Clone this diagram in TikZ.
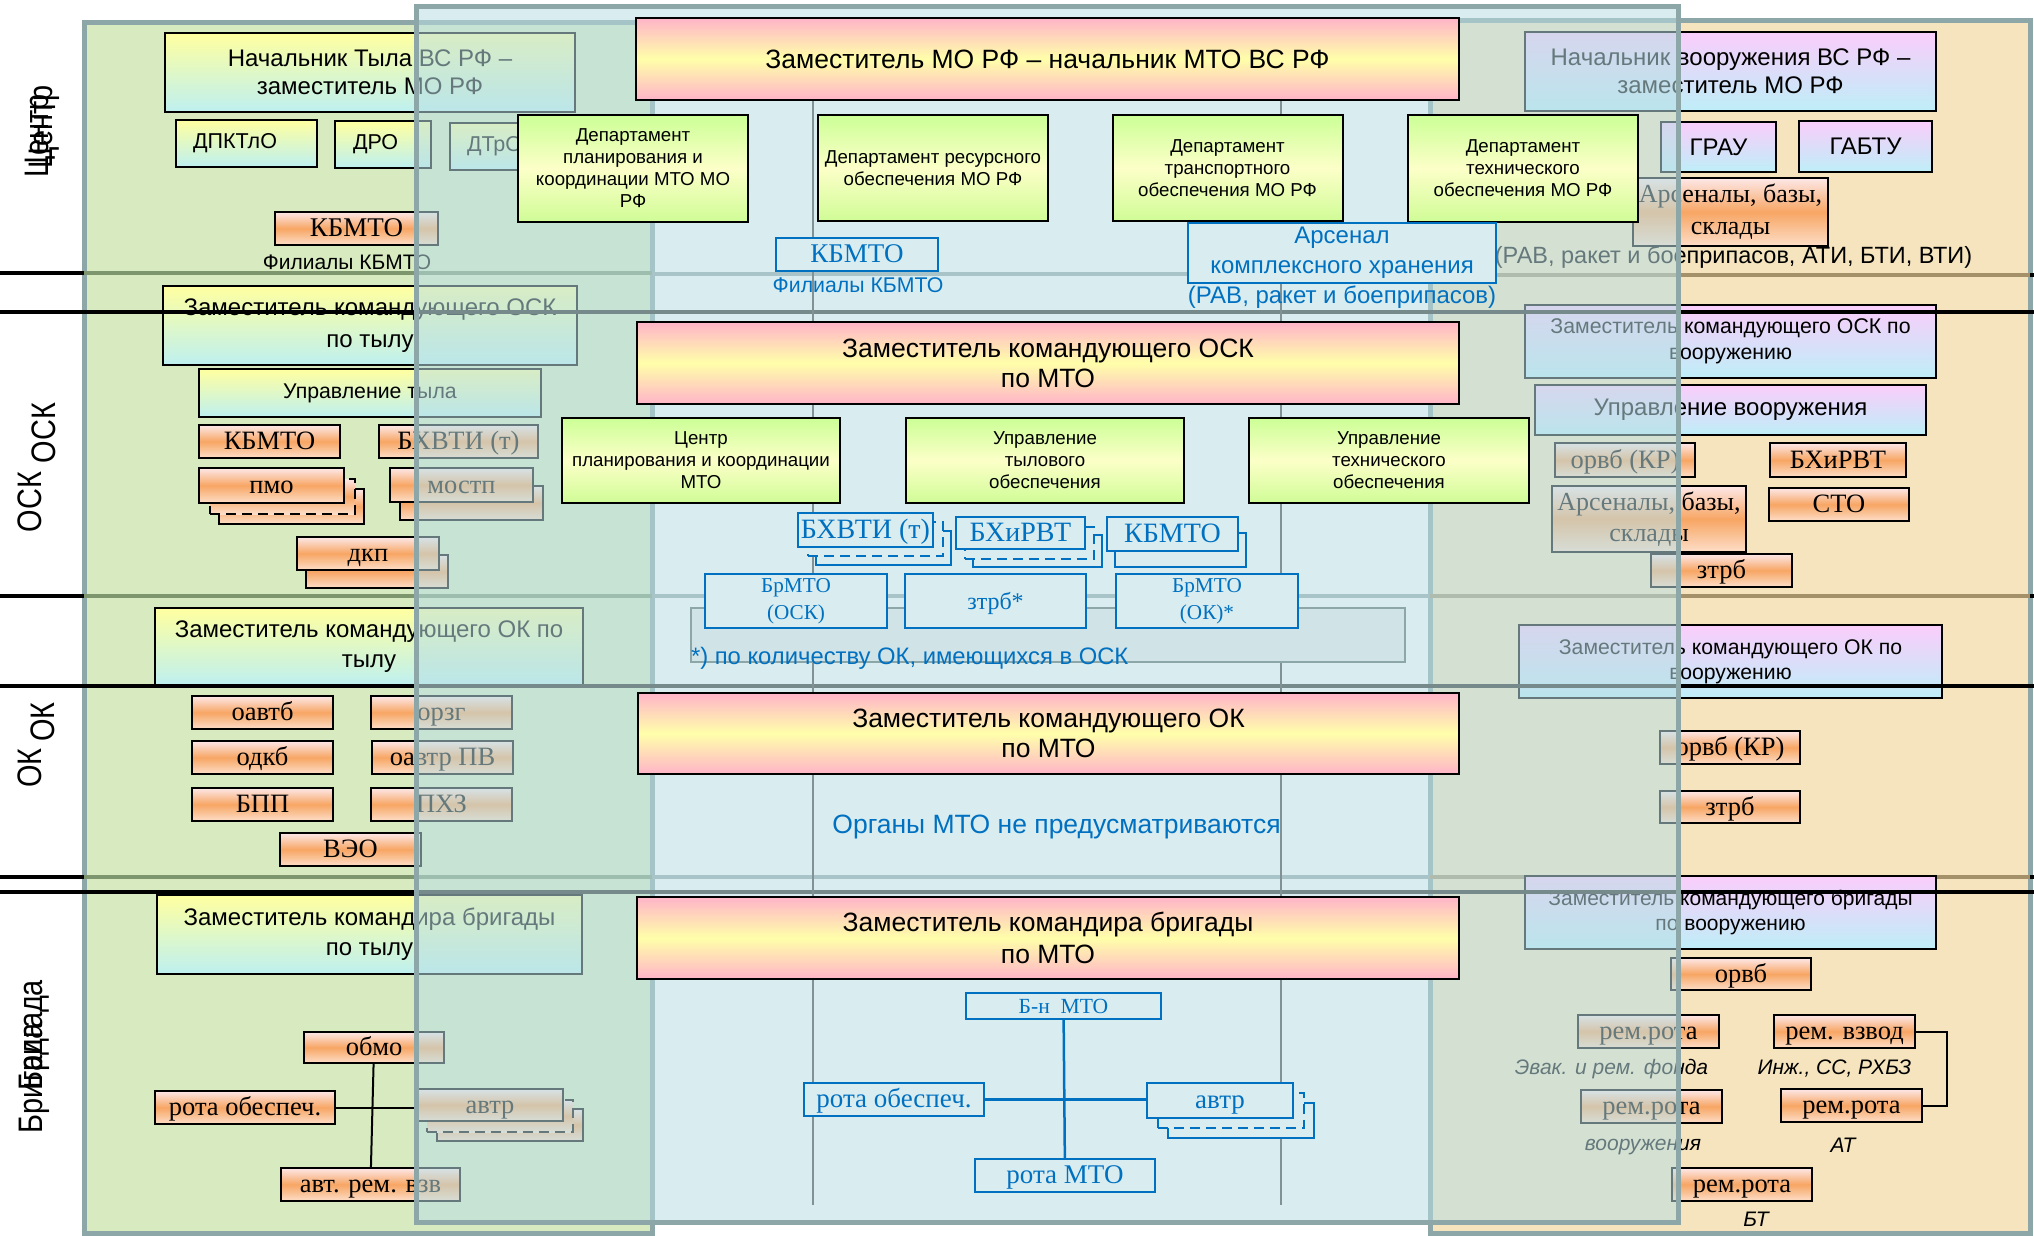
\documentclass[tikz,border=0pt]{standalone}
\usepackage{fontspec}
\usepackage{graphicx}
\setmainfont{Liberation Sans}
\newfontfamily\tnr{Liberation Serif}
\newcommand\fsz[2]{\fontsize{#1}{#2}\selectfont}
\newcommand\lvltxt[1]{\scalebox{0.85}[1]{#1}}

\definecolor{panelline}{RGB}{141,166,168}
\definecolor{greenf}{RGB}{216,235,192}
\definecolor{tanf}{RGB}{245,228,189}
\definecolor{bluef}{RGB}{185,222,228}
\definecolor{greenr}{RGB}{125,150,110}
\definecolor{tanr}{RGB}{165,145,105}
\definecolor{lightr}{RGB}{150,166,168}
\definecolor{bluer}{RGB}{118,138,140}
\definecolor{vgray}{RGB}{130,145,147}
\definecolor{rectf}{RGB}{208,227,231}
\definecolor{pinkt}{RGB}{255,180,200}
\definecolor{pinkm}{RGB}{255,255,170}
\definecolor{dept}{RGB}{204,255,150}
\definecolor{depm}{RGB}{252,255,200}
\definecolor{depb}{RGB}{208,252,150}
\definecolor{tylt}{RGB}{255,255,160}
\definecolor{tylb}{RGB}{190,240,240}
\definecolor{voort}{RGB}{250,205,250}
\definecolor{voorb}{RGB}{190,238,248}
\definecolor{ort}{RGB}{253,232,232}
\definecolor{orm}{RGB}{247,166,100}
\definecolor{orb}{RGB}{253,222,200}
\definecolor{bluec}{RGB}{0,112,192}
\definecolor{boxbg}{RGB}{217,237,240}

\begin{document}
\begin{tikzpicture}[x=1pt, y=-1pt,
    every node/.style={inner sep=0pt, outer sep=0pt, align=center},
    sz/.style 2 args={minimum width=#1pt, minimum height=#2pt},
    panel/.style={draw=panelline, line width=5pt},
    rule/.style={line width=3.5pt},
    box/.style={draw=black, line width=2pt},
    oneline/.style={text height=20pt, text depth=4pt},
    pinkbox/.style={box, top color=pinkt, bottom color=pinkt, middle color=pinkm, font={\fsz{26.5}{30}}},
    depbox/.style={box, top color=dept, bottom color=depb, middle color=depm, font={\fsz{18.7}{22}}},
    tylbox/.style={box, top color=tylt, bottom color=tylb, font={\fsz{24}{30}}},
    voorbox/.style={box, top color=voort, bottom color=voorb, font={\fsz{21.3}{26}}},
    orshade/.style={draw=black, line width=1.8pt, top color=ort, bottom color=orb, middle color=orm, font={\tnr\fsz{26.5}{31}}},
    orbox/.style={orshade, oneline},
    blueshade/.style={draw=bluec, line width=2.5pt, fill=boxbg, text=bluec, font={\tnr\fsz{27}{28}}},
    bluebox/.style={blueshade, oneline},
    bluetxt/.style={text=bluec, font={\fsz{24}{30}}},
    note/.style={font={\itshape\fsz{21}{24}}},
    lvl/.style={rotate=90, font={\fsz{34}{34}}},
    dashedge/.style={dash pattern=on 10pt off 6pt}]
    \useasboundingbox (0,0) rectangle (2034,1236);

    % green layer (tyl)
    \draw[panel, fill=greenf] (84,23) rectangle (652,1233);
    \foreach \y in {273,596,877} {
      \draw[rule, draw=greenr] (84,\y) -- (652,\y);
      \draw[rule] (0,\y) -- (84,\y);
    }
    % tan layer (vooruzhenie)
    \draw[panel, fill=tanf] (1430,21) rectangle (2030,1233);
    \foreach \y in {275,596,877} {
      \draw[rule, draw=tanr] (1430,\y) -- (2030,\y);
      \draw[rule] (2030,\y) -- (2034,\y);
    }
    \foreach \y in {274,596,877}
      \draw[rule, draw=lightr] (652,\y) -- (1430,\y);

    % levels
    \node[lvl] (centr1) at (40,136) {\lvltxt{Центр}};
    \node[lvl] (centr2) at (44,127) {\lvltxt{Центр}};
    \node[lvl] (osk1) at (30,502) {\lvltxt{ОСК}};
    \node[lvl] (osk2) at (44,433) {\lvltxt{ОСК}};
    \node[lvl] (ok1) at (30,768) {\lvltxt{ОК}};
    \node[lvl] (ok2) at (43,722) {\lvltxt{ОК}};
    \node[lvl] (brig1) at (34,1078) {\lvltxt{Бригада}};
    \node[lvl] (brig2) at (34,1035) {\lvltxt{Бригада}};

    % tyl: centr
    \node[tylbox, sz={410}{79}, font={\fsz{24}{28}}] (nachtyl) at (370,72.5) {Начальник Тыла ВС РФ –\\заместитель МО РФ};
    \node[tylbox, sz={141}{47}, inner xsep=17pt, text width=107pt, align=left, font={\fsz{21.5}{24}}] (dpktlo) at (246.5,143.5) {ДПКТлО};
    \node[tylbox, sz={96}{47}, inner xsep=18pt, text width=60pt, align=left, font={\fsz{21.5}{24}}] (dro) at (383,144.5) {ДРО};
    \node[tylbox, sz={115}{47}, inner xsep=17pt, text width=81pt, align=left, font={\fsz{21.5}{24}}] (dtro) at (507.5,146.5) {ДТрО};
    \node[orbox, sz={163}{33}, font={\tnr\fsz{27}{31}}] (kbmto1) at (356.5,228.5) {КБМТО};
    \node[font={\fsz{21}{24}}] (filial1) at (347,262) {Филиалы КБМТО};

    % tyl: OSK
    \node[tylbox, sz={414}{79}, font={\fsz{24}{32}}] (zamosk) at (370,325.5) {Заместитель командующего ОСК\\по тылу};
    \node[tylbox, sz={342}{48}, font={\fsz{21.3}{24}}] (uprtyl) at (370,393) {Управление тыла};
    \node[orbox, sz={141}{33}] (kbmto2) at (269.5,441.5) {КБМТО};
    \node[orbox, sz={159}{33}] (bhvti1) at (458.5,441.5) {БХВТИ (т)};
    \node[orbox, sz={145}{35}] (pmo-b) at (291.5,506.5) {};
    \node[orbox, dashedge, sz={145}{35}] (pmo-m) at (282.5,496.5) {};
    \node[orbox, sz={145}{35}] (pmo) at (271.5,485.5) {пмо};
    \node[orbox, sz={143}{34}] (mostp-b) at (471.5,503) {};
    \node[orbox, sz={143}{34}] (mostp) at (461.5,485) {мостп};
    \node[orbox, sz={142}{33}] (dkp-b) at (377,571.5) {};
    \node[orbox, sz={142}{33}] (dkp) at (368,553.5) {дкп};

    % tyl: OK
    \node[tylbox, sz={428}{77}] (zamok) at (369,646.5) {Заместитель командующего ОК по\\тылу};
    \node[orbox, sz={141}{33}] (oavtb) at (262.5,712.5) {оавтб};
    \node[orbox, sz={141}{33}] (orzg) at (441.5,712.5) {орзг};
    \node[orbox, sz={141}{33}] (odkb) at (262.5,757.5) {одкб};
    \node[orbox, sz={141}{33}] (oavtr) at (442.5,757.5) {оавтр ПВ};
    \node[orbox, sz={141}{33}] (bpp) at (262.5,804.5) {БПП};
    \node[orbox, sz={141}{33}] (phz) at (441.5,804.5) {ПХЗ};
    \node[orbox, sz={141}{33}] (veo) at (350.5,849.5) {ВЭО};

    % tyl: brigada
    \node[tylbox, sz={425}{79}] (zambr) at (369.5,934.5) {Заместитель командира бригады\\по тылу};
    \node[orbox, sz={140}{31}] (obmo) at (374,1047.5) {обмо};
    \node[orbox, sz={180}{33}] (rotaob) at (245,1107.5) {рота обеспеч.};
    \node[orbox, sz={146}{32}] (avtr-b) at (510,1125) {};
    \node[orbox, dashedge, sz={146}{32}] (avtr-m) at (500,1116) {};
    \node[orbox, sz={146}{32}] (avtr) at (490,1105) {автр};
    \node[orbox, sz={179}{33}] (avtrem) at (370.5,1184.5) {авт. рем. взв};
    \draw[line width=2pt] (obmo) -- (avtrem);
    \draw[line width=2pt] (rotaob.east) -- (rotaob.east -| avtr.west);

    % vooruzhenie: centr
    \node[voorbox, sz={411}{79}, font={\fsz{24}{28}}] (nachvoor) at (1730.5,71.5) {Начальник вооружения ВС РФ –\\заместитель МО РФ};
    \node[voorbox, sz={115}{50}, font={\fsz{24}{28}}] (grau) at (1718.5,147) {ГРАУ};
    \node[voorbox, sz={133}{51}, font={\fsz{24}{28}}] (gabtu) at (1865.5,146.5) {ГАБТУ};
    \node[orshade, sz={195}{68}, font={\tnr\fsz{26}{32}}] (arsen1) at (1730.5,212) {Арсеналы, базы,\\склады};
    \node[anchor=east, font={\fsz{23.5}{26}}] (ravati) at (1972,257) {(РАВ, ракет и боеприпасов, АТИ, БТИ, ВТИ)};

    % vooruzhenie: OSK
    \node[voorbox, sz={411}{73}] (zamoskv) at (1730.5,341.5) {Заместитель командующего ОСК по\\вооружению};
    \node[voorbox, sz={391}{50}, font={\fsz{24}{26}}] (uprvoor) at (1730.5,410) {Управление вооружения};
    \node[orbox, sz={140}{34}] (orvb1) at (1625,460) {орвб (КР)};
    \node[orbox, sz={136}{34}] (bhirvt1) at (1838,460) {БХиРВТ};
    \node[orshade, sz={194}{66}, font={\tnr\fsz{26}{31}}] (arsen2) at (1649,519) {Арсеналы, базы,\\склады};
    \node[orbox, sz={140}{33}] (sto) at (1839,504.5) {СТО};
    \node[orbox, sz={141}{33}] (ztrb1) at (1721.5,570.5) {зтрб};

    % vooruzhenie: OK
    \node[voorbox, sz={423}{73}, font={\fsz{21.2}{25}}] (zamokv) at (1730.5,661.5) {Заместитель командующего ОК по\\вооружению};
    \node[orbox, sz={140}{33}] (orvb2) at (1730,747.5) {орвб (КР)};
    \node[orbox, sz={140}{32}] (ztrb2) at (1730,807) {зтрб};

    % vooruzhenie: brigada
    \node[voorbox, sz={411}{73}, font={\fsz{21}{25}}] (zambrv) at (1730.5,912.5) {Заместитель командующего бригады\\по вооружению};
    \node[orbox, sz={140}{32}] (orvb3) at (1741,974) {орвб};
    \node[orbox, sz={141}{33}] (remr1) at (1648.5,1031.5) {рем.рота};
    \node[note] (evak) at (1611.5,1069) {Эвак. и рем. фонда};
    \node[orbox, sz={141}{33}] (remvz) at (1844.5,1031.5) {рем. взвод};
    \node[note] (inzh) at (1834.5,1068) {Инж., СС, РХБЗ};
    \node[orbox, sz={141}{33}] (remr2) at (1651.5,1106.5) {рем.рота};
    \node[note] (voor) at (1643,1147) {вооружения};
    \node[orbox, sz={141}{33}] (remat) at (1851.5,1105.5) {рем.рота};
    \node[note] (at) at (1843,1145) {АТ};
    \node[orbox, sz={140}{33}] (rembt) at (1742,1184.5) {рем.рота};
    \node[note] (bt) at (1756,1219) {БТ};
    \draw[line width=2pt] (remvz.east) -- ++(32,0) |- (remat.east);

    % blue layer (MTO)
    \fill[bluef, fill opacity=0.55] (416,7) rectangle (1678,1222);
    \foreach \y in {312,686,892} {
      \draw[rule, draw=bluer] (416,\y) -- (1678,\y);
      \draw[rule] (0,\y) -- (416,\y);
      \draw[rule] (1678,\y) -- (2034,\y);
    }
    \draw[panel] (416,7) rectangle (1678,1222);
    \foreach \x in {813,1281}
      \draw[line width=2pt, draw=vgray] (\x,100) -- (\x,1205);
    \draw[line width=2pt, draw=panelline, fill=rectf] (691,608) rectangle (1405,662);

    % MTO: centr
    \node[pinkbox, sz={823}{82}] (zammto) at (1047.5,59) {Заместитель МО РФ – начальник МТО ВС РФ};
    \node[depbox, sz={230}{107}] (dep1) at (633,168.5) {Департамент\\планирования и\\координации МТО МО\\РФ};
    \node[depbox, sz={230}{106}] (dep2) at (933,168) {Департамент ресурсного\\обеспечения МО РФ};
    \node[depbox, sz={230}{106}] (dep3) at (1227.5,168) {Департамент\\транспортного\\обеспечения МО РФ};
    \node[depbox, sz={230}{107}] (dep4) at (1523,168.5) {Департамент\\технического\\обеспечения МО РФ};
    \node[bluebox, sz={162}{33}] (kbmto3) at (857,254.5) {КБМТО};
    \node[bluetxt, font={\fsz{21.3}{24}}] (filial2) at (858,285) {Филиалы КБМТО};
    \node[blueshade, sz={308}{60}, font={\fsz{24}{30}}] (arsenal) at (1342,253) {Арсенал\\комплексного хранения};
    \node[bluetxt] (rav) at (1342,297) {(РАВ, ракет и боеприпасов)};

    % MTO: OSK
    \node[pinkbox, sz={822}{82}] (zamoskmto) at (1048,363) {Заместитель командующего ОСК\\по МТО};
    \node[depbox, sz={278}{85}] (cpk) at (701,460.5) {Центр\\планирования и координации\\МТО};
    \node[depbox, sz={278}{85}] (uto) at (1045,460.5) {Управление\\тылового\\обеспечения};
    \node[depbox, sz={280}{85}] (utech) at (1389,460.5) {Управление\\технического\\обеспечения};
    \node[bluebox, sz={135}{34}] (bhvti2-b) at (883.5,548) {};
    \node[bluebox, dashedge, sz={135}{34}] (bhvti2-m) at (875.5,539) {};
    \node[bluebox, sz={135}{34}, font={\tnr\fsz{28}{28}}] (bhvti2) at (865.5,530) {БХВТИ (т)};
    \node[bluebox, sz={129}{32}] (bhirvt2-b) at (1037.5,551) {};
    \node[bluebox, dashedge, sz={129}{32}] (bhirvt2-m) at (1029.5,543) {};
    \node[bluebox, sz={129}{32}, font={\tnr\fsz{28}{28}}] (bhirvt2) at (1020.5,533) {БХиРВТ};
    \node[bluebox, sz={131}{34}] (kbmto4-b) at (1180.5,550) {};
    \node[bluebox, sz={131}{34}, font={\tnr\fsz{28}{28}}] (kbmto4) at (1172.5,534) {КБМТО};
    \node[blueshade, sz={182}{54}, font={\tnr\fsz{21.2}{27}}] (brmto1) at (796,601) {БрМТО\\(ОСК)};
    \node[bluebox, sz={181}{54}, font={\tnr\fsz{24}{27}}] (ztrb3) at (995.5,601) {зтрб*};
    \node[blueshade, sz={182}{54}, font={\tnr\fsz{21.2}{27}}] (brmto2) at (1207,601) {БрМТО\\(ОК)*};
    \node[bluetxt, anchor=west, font={\fsz{23.8}{26}}] (foot) at (691,658) {*) по количеству ОК, имеющихся в ОСК};

    % MTO: OK
    \node[pinkbox, sz={821}{81}] (zamokmto) at (1048.5,733.5) {Заместитель командующего ОК\\по МТО};
    \node[bluetxt, font={\fsz{26.5}{30}}] (organy) at (1056.5,827) {Органы МТО не предусматриваются};

    % MTO: brigada
    \node[pinkbox, sz={822}{82}, font={\fsz{26.5}{32}}] (zambrmto) at (1048,938) {Заместитель командира бригады\\по МТО};
    \node[blueshade, sz={195}{26}, font={\tnr\fsz{21.6}{24}}] (bn) at (1063.5,1006) {Б-н~~МТО};
    \node[bluebox, sz={180}{33}] (rotaob2) at (894,1099.5) {рота обеспеч.};
    \node[bluebox, sz={146}{35}] (avtr2-b) at (1241,1120.5) {};
    \node[bluebox, dashedge, sz={146}{35}] (avtr2-m) at (1231,1110.5) {};
    \node[bluebox, sz={146}{35}] (avtr2) at (1220,1100.5) {автр};
    \node[bluebox, sz={180}{33}] (rotamto) at (1065,1175.5) {рота МТО};
    \draw[line width=2.5pt, bluec] (bn) -- (rotamto);
    \draw[line width=2.5pt, bluec] (rotaob2.east) -- (rotaob2.east -| avtr2.west);
\end{tikzpicture}
\end{document}
